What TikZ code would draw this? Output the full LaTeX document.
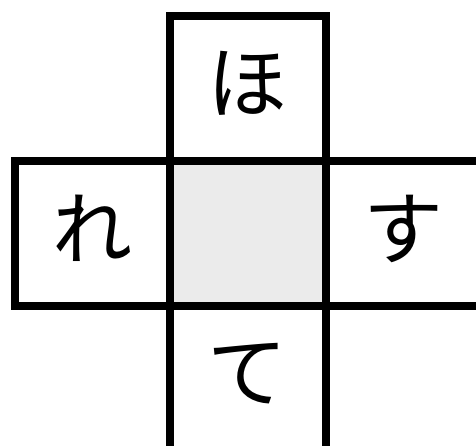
\documentclass[tikz,border=0pt]{standalone}
\usepackage{fontspec}
\newfontfamily\jp{Noto Sans CJK JP}
\begin{document}
\begin{tikzpicture}[x=1pt,y=-1pt,
  cell/.style={draw=black,line width=8pt,minimum width=155.5pt,minimum height=145pt,inner sep=0pt,outer sep=0pt,anchor=north west},
  kana/.style={font=\jp\fontsize{80}{96}\selectfont,inner sep=0pt}]
\useasboundingbox (0,0) rectangle (476,446);
\clip (0,0) rectangle (476,446);
\node[cell,fill=white] (top) at (170,16) {};
\node[cell,fill=white] (left) at (15,161) {};
\node[cell,fill=black!8] (mid) at (170,161) {};
\node[cell,fill=white] (right) at (325.5,161) {};
\node[cell,fill=white] (bot) at (170,306) {};
\node[kana] (ho) at ([yshift=5pt]top.center) {ほ};
\node[kana] (re) at ([yshift=5pt]left.center) {れ};
\node[kana] (su) at ([yshift=5pt]right.center) {す};
\node[kana] (te) at ([yshift=5pt]bot.center) {て};
\end{tikzpicture}
\end{document}
